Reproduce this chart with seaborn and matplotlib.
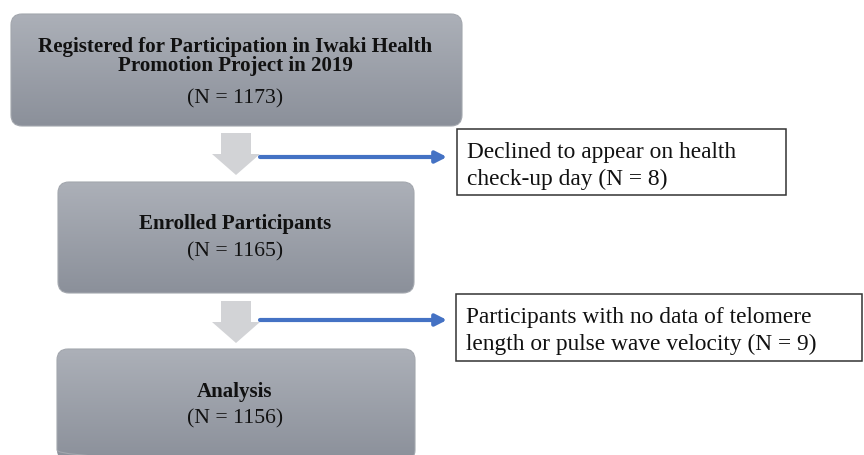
import numpy as np
import matplotlib
matplotlib.use("Agg")
import matplotlib.pyplot as plt
from matplotlib.patches import FancyBboxPatch, Polygon, Rectangle
import seaborn as sns

# ---- content ----
stage_titles = [
    "Registered for Participation in Iwaki Health\nPromotion Project in 2019",
    "Enrolled Participants",
    "Analysis",
]
stage_counts = [1173, 1165, 1156]
exclusion_texts = [
    "Declined to appear on health\ncheck-up day",
    "Participants with no data of telomere\nlength or pulse wave velocity",
]
exclusion_counts = [8, 9]

sns.set_theme(style="white")
plt.rcParams["font.family"] = ["Liberation Serif", "DejaVu Serif"]

W, H = 864, 456
fig = plt.figure(figsize=(W / 100, H / 100), dpi=100)
ax = fig.add_axes([0, 0, 1, 1])

# layout (pixels)
stage_boxes = [(11, 15, 451, 112), (58, 183, 356, 111), (57, 350, 358, 112)]
stage_title_y = [(47, 66), (224,), (392,)]
stage_count_y = [99, 252, 419]
excl_boxes = [(457, 130, 329, 66), (456, 295, 406, 67)]
excl_text_y = [166, 331]
arrow_y = [134, 302]
branch_y = [158, 321]

top_col = np.array([0xac, 0xb0, 0xb8]) / 255
bot_col = np.array([0x8b, 0x90, 0x9a]) / 255
grad = np.linspace(0, 1, 256)[:, None, None]
grad_img = top_col * (1 - grad) + bot_col * grad

for i, (x, y, w, h) in enumerate(stage_boxes):
    patch = FancyBboxPatch((x, y), w, h, boxstyle="round,pad=0,rounding_size=11",
                           facecolor="none", edgecolor="#a3a7ae", lw=0.8, zorder=3)
    ax.add_patch(patch)
    im = ax.imshow(grad_img, extent=[x, x + w, y + h, y], origin="upper",
                   aspect="auto", zorder=2, interpolation="bilinear")
    im.set_clip_path(patch)
    cx = x + w / 2 - 1
    title_lines = stage_titles[i].split("\n")
    for line, ly in zip(title_lines, stage_title_y[i]):
        ax.text(cx, ly, line, ha="center", va="center", fontsize=15.1,
                fontweight="bold", color="#111111", zorder=4)
    ax.text(cx, stage_count_y[i], f"(N = {stage_counts[i]})", ha="center",
            va="center", fontsize=15.6, color="#111111", zorder=4)

for j in range(2):
    # grey down arrow
    t = arrow_y[j]
    pts = [(221, t), (251, t), (251, t + 21), (260, t + 21), (236, t + 42),
           (212, t + 21), (221, t + 21)]
    ax.add_patch(Polygon(pts, closed=True, facecolor="#d2d3d6", edgecolor="none", zorder=2))
    # blue branch arrow
    ax.annotate("", xy=(447, branch_y[j]), xytext=(260, branch_y[j]),
                arrowprops=dict(arrowstyle="-|>,head_length=0.55,head_width=0.28",
                                color="#4472c4", lw=3, shrinkA=0, shrinkB=0), zorder=3)
    # exclusion box
    x, y, w, h = excl_boxes[j]
    ax.add_patch(Rectangle((x, y), w, h, facecolor="white", edgecolor="#333333",
                           lw=1.1, zorder=3))
    ax.text(x + 10, excl_text_y[j],
            f"{exclusion_texts[j]} (N = {exclusion_counts[j]})",
            ha="left", va="center", fontsize=16.8, color="#111111",
            linespacing=1.38, zorder=4)

ax.set_xlim(0, W)
ax.set_ylim(H, 0)
ax.axis("off")
fig.savefig("out.png", dpi=100, facecolor="white")
